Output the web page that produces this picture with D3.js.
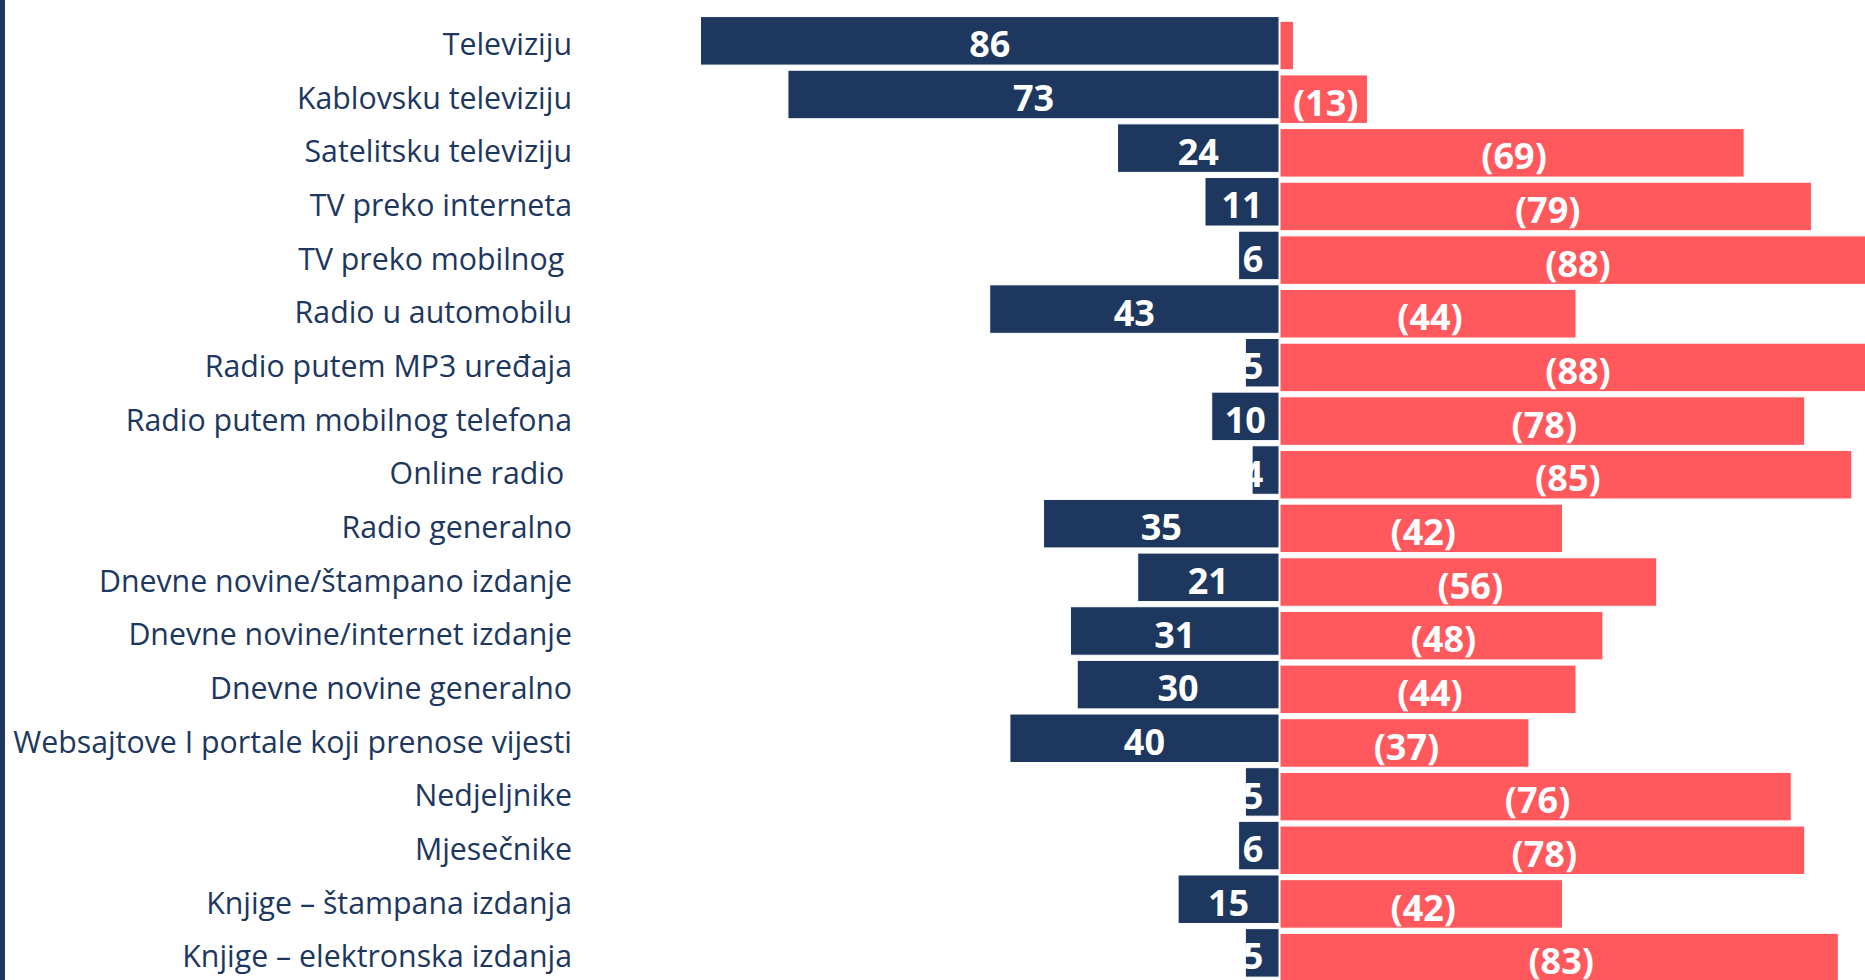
<!DOCTYPE html>
<html>
<head>
<meta charset="utf-8">
<script src="https://cdn.jsdelivr.net/npm/d3@7"></script>
<style>
  body { margin: 0; background: #fff; overflow: hidden; }
  text { font-family: "Open Sans", "Noto Sans", sans-serif; }
</style>
</head>
<body>
<script>
var categories = [
    "Televiziju",
    "Kablovsku televiziju",
    "Satelitsku televiziju",
    "TV preko interneta",
    "TV preko mobilnog\u00a0",
    "Radio u automobilu",
    "Radio putem MP3 uređaja",
    "Radio putem mobilnog telefona",
    "Online radio\u00a0",
    "Radio generalno",
    "Dnevne novine/štampano izdanje",
    "Dnevne novine/internet izdanje",
    "Dnevne novine generalno",
    "Websajtove I portale koji prenose vijesti",
    "Nedjeljnike",
    "Mjesečnike",
    "Knjige – štampana izdanja",
    "Knjige – elektronska izdanja"
];

// dark bars (left of zero)
var usesValues = [86, 73, 24, 11, 6, 43, 5, 10, 4, 35, 21, 31, 30, 40, 5, 6, 15, 5];
// red bars (right of zero), shown in brackets
var notUsesValues = [2, 13, 69, 79, 88, 44, 88, 78, 85, 42, 56, 48, 44, 37, 76, 78, 42, 83];
var notUsesLabels = ["", "(13)", "(69)", "(79)", "(88)", "(44)", "(88)", "(78)", "(85)", "(42)", "(56)", "(48)", "(44)", "(37)", "(76)", "(78)", "(42)", "(83)"];

var w = 1865;
var h = 980;
var navy = "#1d375e";
var red = "#ff585d";

var svg = d3.select("body")
    .append("svg")
    .attr("width", w)
    .attr("height", h);

// zero at 1279, 6.727 px per point
var x = d3.scaleLinear()
    .domain([-100, 100])
    .range([1279 - 672.7, 1279 + 672.7]);

var y = d3.scaleBand()
    .domain(categories)
    .range([14, 14 + 18 * 53.65])
    .paddingInner(0.096)
    .paddingOuter(0.048);

var redShift = 4.7;

// left border stripe
svg.append("rect")
    .attr("x", 0)
    .attr("y", 0)
    .attr("width", 5)
    .attr("height", h)
    .attr("fill", navy);

// dark bars
svg.selectAll("rect.uses")
    .data(usesValues)
    .enter()
    .append("rect")
    .attr("class", "uses")
    .attr("x", function (d) { return x(-d); })
    .attr("y", function (d, i) { return y(categories[i]); })
    .attr("width", function (d) { return x(0) - x(-d); })
    .attr("height", y.bandwidth())
    .attr("fill", navy)
    .attr("stroke", "#fff")
    .attr("stroke-width", 1);

// red bars
svg.selectAll("rect.not")
    .data(notUsesValues)
    .enter()
    .append("rect")
    .attr("class", "not")
    .attr("x", x(0) + 1)
    .attr("y", function (d, i) { return y(categories[i]) + redShift; })
    .attr("width", function (d) { return x(d) - x(0); })
    .attr("height", y.bandwidth())
    .attr("fill", red)
    .attr("stroke", "#fff")
    .attr("stroke-width", 1);

// category labels
svg.selectAll("text.cat")
    .data(categories)
    .enter()
    .append("text")
    .attr("class", "cat")
    .attr("x", 572)
    .attr("y", function (d) { return y(d) + y.bandwidth() / 2 + 3.7; })
    .attr("dy", "0.35em")
    .attr("text-anchor", "end")
    .attr("fill", navy)
    .style("font-size", "30.3px")
    .text(function (d) { return d; });

// value labels, dark
svg.selectAll("text.uses")
    .data(usesValues)
    .enter()
    .append("text")
    .attr("class", "uses")
    .attr("x", function (d) { return Math.min((x(-d) + x(0)) / 2, x(0) - 26); })
    .attr("y", function (d, i) { return y(categories[i]) + y.bandwidth() / 2 + 4; })
    .attr("dy", "0.35em")
    .attr("text-anchor", "middle")
    .attr("fill", "#fff")
    .style("font-size", "36px")
    .style("font-weight", "bold")
    .text(function (d) { return d; });

// value labels, red
svg.selectAll("text.not")
    .data(notUsesValues)
    .enter()
    .append("text")
    .attr("class", "not")
    .attr("x", function (d) { return (x(0) + x(d)) / 2 + 3; })
    .attr("y", function (d, i) { return y(categories[i]) + redShift + y.bandwidth() / 2 + 4; })
    .attr("dy", "0.35em")
    .attr("text-anchor", "middle")
    .attr("fill", "#fff")
    .style("font-size", "36px")
    .style("font-weight", "bold")
    .text(function (d, i) { return notUsesLabels[i]; });
</script>
</body>
</html>
